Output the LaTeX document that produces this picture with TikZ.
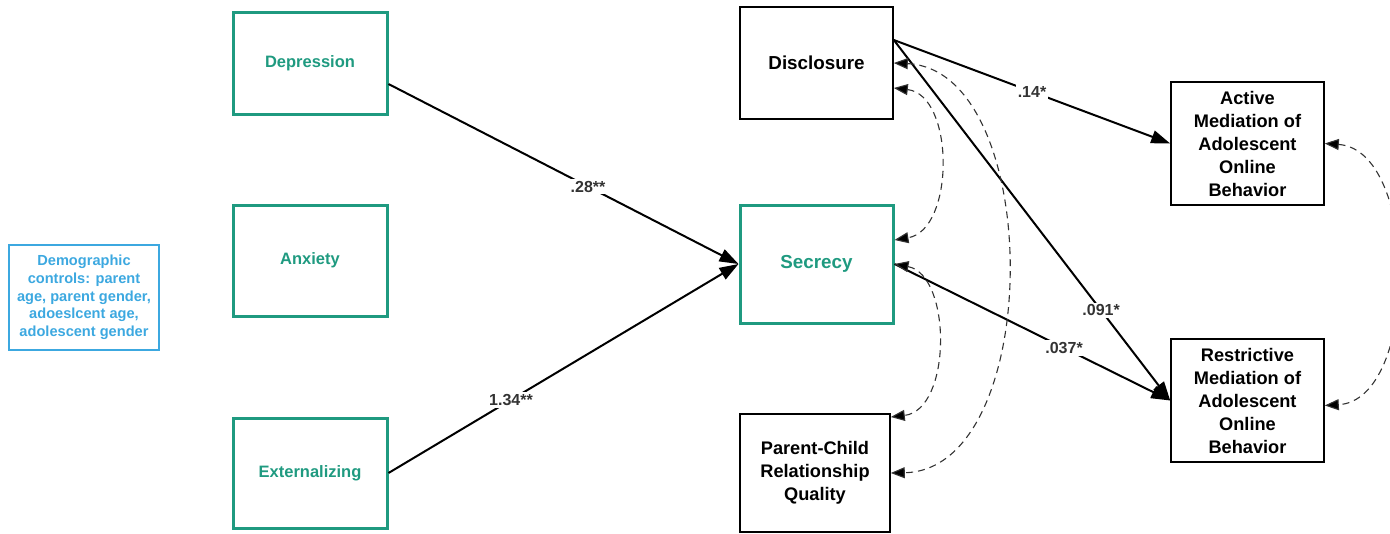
\documentclass[tikz,border=0pt]{standalone}
\usepackage{fontspec}
\setmainfont{Liberation Sans}
\usetikzlibrary{arrows.meta}
\definecolor{tealc}{HTML}{1F9A80}
\definecolor{bluec}{HTML}{3CA8E0}
\definecolor{lblc}{HTML}{333333}
\tikzset{
  tealbox/.style={draw=tealc, line width=3pt, text=tealc, font=\bfseries\fontsize{16.5}{23}\selectfont, align=center, inner sep=0pt},
  blackbox/.style={draw=black, line width=1.6pt, text=black, font=\bfseries\fontsize{18.2}{23}\selectfont, align=center, inner sep=0pt},
  demobox/.style={draw=bluec, line width=2pt, text=bluec, font=\bfseries\fontsize{14.6}{17.7}\selectfont, align=center, inner sep=0pt},
  patharrow/.style={line width=2pt, -{Triangle[length=19pt,width=13pt]}},
  covarrow/.style={line width=1.1pt, draw=lblc, dash pattern=on 7pt off 5pt, {Triangle[length=14pt,width=11pt,fill=black]}-{Triangle[length=14pt,width=11pt,fill=black]}},
  coef/.style={fill=white, text=lblc, font=\bfseries\fontsize{16}{18}\selectfont, inner sep=2pt}
}
\begin{document}
\begin{tikzpicture}[x=1pt,y=-1pt]
\useasboundingbox (0,0) rectangle (1390,533);
\node[demobox, minimum width=150pt, minimum height=105pt] (demo) at (84,297.5) {Demographic\\controls: parent\\age, parent gender,\\adoeslcent age,\\adolescent gender};
\node[tealbox, minimum width=154pt, minimum height=102pt] (dep) at (310,63) {Depression};
\node[tealbox, minimum width=154pt, minimum height=111pt] (anx) at (310,260.5) {Anxiety};
\node[tealbox, minimum width=154pt, minimum height=110pt] (ext) at (310,473) {Externalizing};
\node[blackbox, minimum width=153pt, minimum height=112pt, font=\bfseries\fontsize{18.8}{23}\selectfont] (dis) at (816.5,63) {Disclosure};
\node[tealbox, minimum width=153pt, minimum height=118pt, font=\bfseries\fontsize{18.8}{23}\selectfont] (sec) at (816.5,264) {Secrecy};
\node[blackbox, minimum width=150pt, minimum height=118pt] (pc) at (815,473) {Parent-Child\\Relationship\\Quality};
\node[blackbox, minimum width=153pt, minimum height=123pt] (act) at (1247.5,143.5) {Active\\Mediation of\\Adolescent\\Online\\Behavior};
\node[blackbox, minimum width=153pt, minimum height=123pt] (res) at (1247.5,400.5) {Restrictive\\Mediation of\\Adolescent\\Online\\Behavior};

\draw[patharrow] ([yshift=-21pt]dep.east) -- (sec.west) node[coef, pos=0.57] {.28**};
\draw[patharrow] (ext.east) -- (sec.west) node[coef, pos=0.35] {1.34**};
\draw[patharrow] ([yshift=23pt]dis.east) -- (act.west) node[coef, pos=0.5] {.14*};
\draw[patharrow] ([yshift=23pt]dis.east) -- (res.west) node[coef, pos=0.75] {.091*};
\draw[patharrow] (sec.east) -- (res.west) node[coef, pos=0.615] {.037*};

\draw[covarrow] ([yshift=-25pt]dis.east) .. controls (955,95) and (955,230) .. ([yshift=24pt]sec.east);
\draw[covarrow] (dis.east) .. controls (1045,70) and (1045,470) .. (pc.east);
\draw[covarrow] (sec.east) .. controls (952,275) and (952,410) .. ([yshift=56pt]pc.east);
\draw[covarrow] (act.east) .. controls (1420,150) and (1420,400) .. ([yshift=-5pt]res.east);
\end{tikzpicture}
\end{document}
